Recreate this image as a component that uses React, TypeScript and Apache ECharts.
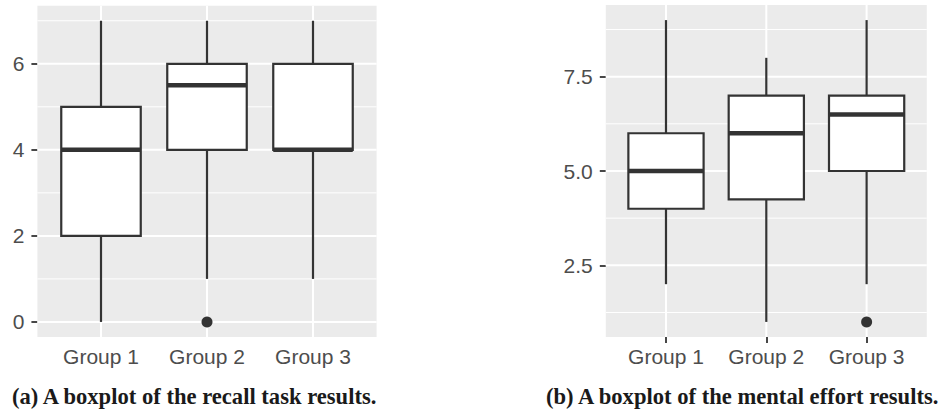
import React, { useEffect, useRef } from "react";
import * as echarts from "echarts";

// ---------- data ----------
const groups = ["Group 1", "Group 2", "Group 3"];
const groupPositions = [1, 2, 3];

// recall task: [low whisker, Q1, median, Q3, high whisker]
const recallStats = [
  [0, 2, 4, 5, 7],
  [1, 4, 5.5, 6, 7],
  [1, 4, 4, 6, 7],
];
const recallOutliers = [[2, 0]];
const recallMajorTicks = [0, 2, 4, 6];
const recallMinorTicks = [1, 3, 5, 7];

// mental effort
const effortStats = [
  [2, 4, 5, 6, 9],
  [1, 4.25, 6, 7, 8],
  [2, 5, 6.5, 7, 9],
];
const effortOutliers = [[3, 1]];
const effortMajorTicks = [2.5, 5, 7.5];
const effortMinorTicks = [1.25, 3.75, 6.25, 8.75];

const captionA = "(a) A boxplot of the recall task results.";
const captionB = "(b) A boxplot of the mental effort results.";

// ---------- styles ----------
const SANS = "'Liberation Sans', Arial, Helvetica, sans-serif";
const SERIF = "'Liberation Serif', 'Times New Roman', serif";
const INK = "#333333";
const LABEL = "#4D4D4D";
const PANEL = "#EBEBEB";

function hLineSeries(gridIdx: number, ticks: number[], width: number, z: number) {
  return {
    type: "custom",
    xAxisIndex: gridIdx,
    yAxisIndex: gridIdx,
    silent: true,
    z,
    data: ticks.map((v) => [2, v]),
    renderItem: (params: any, api: any) => {
      const cs = params.coordSys;
      const y = api.coord([api.value(0), api.value(1)])[1];
      return {
        type: "line",
        shape: { x1: cs.x, y1: y, x2: cs.x + cs.width, y2: y },
        style: { stroke: "#FFFFFF", lineWidth: width },
      };
    },
  };
}

function vLineSeries(gridIdx: number, yRef: number, z: number) {
  return {
    type: "custom",
    xAxisIndex: gridIdx,
    yAxisIndex: gridIdx,
    silent: true,
    z,
    data: groupPositions.map((x) => [x, yRef]),
    renderItem: (params: any, api: any) => {
      const cs = params.coordSys;
      const x = api.coord([api.value(0), api.value(1)])[0];
      return {
        type: "line",
        shape: { x1: x, y1: cs.y, x2: x, y2: cs.y + cs.height },
        style: { stroke: "#FFFFFF", lineWidth: 2 },
      };
    },
  };
}

function boxSeries(gridIdx: number, stats: number[][]) {
  return {
    type: "custom",
    xAxisIndex: gridIdx,
    yAxisIndex: gridIdx,
    silent: true,
    z: 10,
    data: stats.map((s, i) => [groupPositions[i], ...s]),
    renderItem: (params: any, api: any) => {
      const x = api.value(0);
      const lo = api.coord([x, api.value(1)]);
      const q1 = api.coord([x, api.value(2)]);
      const med = api.coord([x, api.value(3)]);
      const q3 = api.coord([x, api.value(4)]);
      const hi = api.coord([x, api.value(5)]);
      const w = api.size([0.75, 0])[0];
      const cx = lo[0];
      const line = { stroke: INK, lineWidth: 2.2 };
      return {
        type: "group",
        children: [
          { type: "line", shape: { x1: cx, y1: q3[1], x2: cx, y2: hi[1] }, style: line },
          { type: "line", shape: { x1: cx, y1: lo[1], x2: cx, y2: q1[1] }, style: line },
          {
            type: "rect",
            shape: { x: cx - w / 2, y: q3[1], width: w, height: q1[1] - q3[1] },
            style: { fill: "#FFFFFF", stroke: INK, lineWidth: 2.2 },
          },
          {
            type: "line",
            shape: { x1: cx - w / 2, y1: med[1], x2: cx + w / 2, y2: med[1] },
            style: { stroke: INK, lineWidth: 4.5 },
          },
        ],
      };
    },
  };
}

function outlierSeries(gridIdx: number, pts: number[][]) {
  return {
    type: "scatter",
    xAxisIndex: gridIdx,
    yAxisIndex: gridIdx,
    silent: true,
    z: 11,
    symbol: "circle",
    symbolSize: 11,
    itemStyle: { color: INK, opacity: 1 },
    data: pts,
  };
}

function xAxis(gridIdx: number) {
  return {
    type: "value",
    gridIndex: gridIdx,
    min: 0.4,
    max: 3.6,
    axisLine: { show: false },
    splitLine: { show: false },
    axisTick: {
      show: true,
      customValues: groupPositions,
      length: 6,
      lineStyle: { color: INK, width: 1.8 },
    },
    axisLabel: {
      customValues: groupPositions,
      formatter: (v: number) => groups[Math.round(v) - 1] ?? "",
      fontFamily: SANS,
      fontSize: 21,
      color: LABEL,
      margin: 9,
    },
  };
}

function yAxis(gridIdx: number, min: number, max: number, ticks: number[], digits: number) {
  return {
    type: "value",
    gridIndex: gridIdx,
    min,
    max,
    axisLine: { show: false },
    splitLine: { show: false },
    axisTick: {
      show: true,
      customValues: ticks,
      length: 6,
      lineStyle: { color: INK, width: 1.8 },
    },
    axisLabel: {
      customValues: ticks,
      formatter: (v: number) => v.toFixed(digits),
      fontFamily: SANS,
      fontSize: 21,
      color: LABEL,
      margin: 13,
    },
  };
}

export default function App() {
  const ref = useRef<HTMLDivElement>(null);

  useEffect(() => {
    document.body.style.margin = "0";
    if (!ref.current) return;
    const chart = echarts.init(ref.current, null, { renderer: "svg" });
    const option: any = {
      animation: false,
      backgroundColor: "#FFFFFF",
      grid: [
        {
          left: 37.4,
          right: 942 - 376.6,
          top: 5.7,
          bottom: 412 - 337,
          show: true,
          backgroundColor: PANEL,
          borderWidth: 0,
        },
        {
          left: 605.8,
          right: 942 - 926.8,
          top: 5,
          bottom: 412 - 337,
          show: true,
          backgroundColor: PANEL,
          borderWidth: 0,
        },
      ],
      xAxis: [xAxis(0), xAxis(1)],
      yAxis: [
        yAxis(0, -0.35, 7.35, recallMajorTicks, 0),
        yAxis(1, 0.6, 9.4, effortMajorTicks, 1),
      ],
      series: [
        hLineSeries(0, recallMinorTicks, 1, 1),
        hLineSeries(0, recallMajorTicks, 2, 2),
        vLineSeries(0, 0, 2),
        boxSeries(0, recallStats),
        outlierSeries(0, recallOutliers),
        hLineSeries(1, effortMinorTicks, 1, 1),
        hLineSeries(1, effortMajorTicks, 2, 2),
        vLineSeries(1, 1, 2),
        boxSeries(1, effortStats),
        outlierSeries(1, effortOutliers),
      ],
      graphic: [
        {
          type: "text",
          left: 12,
          top: 385,
          style: {
            text: captionA,
            font: `bold 22.6px ${SERIF}`,
            fill: "#1A1A1A",
          },
        },
        {
          type: "text",
          left: 546,
          top: 385,
          style: {
            text: captionB,
            font: `bold 22.6px ${SERIF}`,
            fill: "#1A1A1A",
          },
        },
      ],
    };
    chart.setOption(option);
    return () => chart.dispose();
  }, []);

  return (
    <div
      ref={ref}
      style={{ position: "fixed", left: 0, top: 0, width: 942, height: 412 }}
    />
  );
}
